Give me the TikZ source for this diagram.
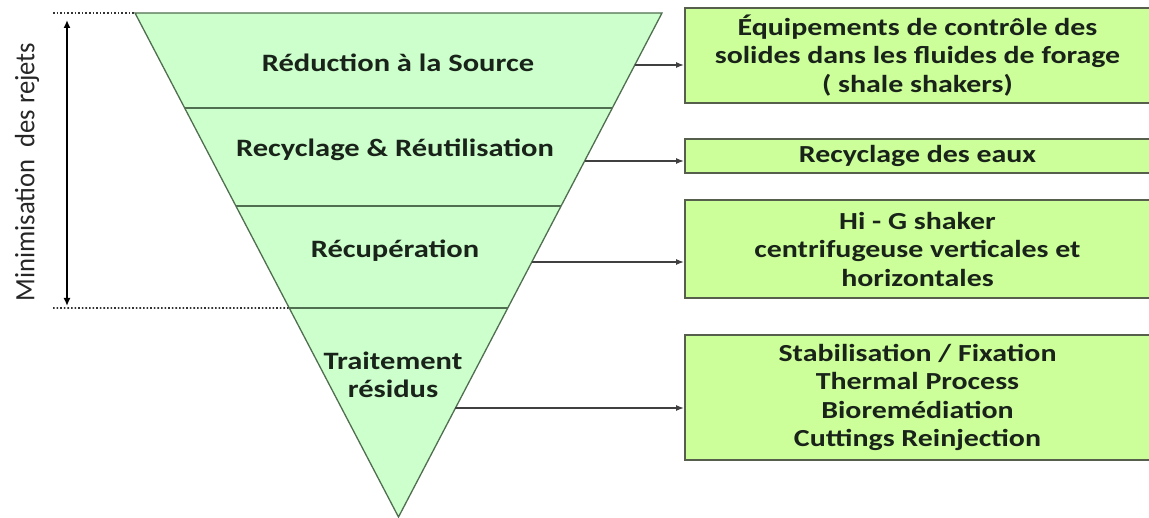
\documentclass[tikz,border=0pt]{standalone}
\usepackage{fontspec}
\setmainfont{Carlito}
\newfontfamily\widefont[FakeStretch=1.22]{Carlito}
\newfontfamily\sidefont[FakeStretch=0.95]{Carlito}
\usetikzlibrary{arrows.meta,calc}
\definecolor{trifill}{RGB}{204,255,204}
\definecolor{triline}{RGB}{80,110,80}
\definecolor{boxfill}{RGB}{204,255,153}
\definecolor{boxline}{RGB}{85,95,75}
\definecolor{txt}{RGB}{25,35,25}
\begin{document}
\begin{tikzpicture}[x=1pt,y=-1pt,
  band/.style={fill=trifill,draw=triline,line width=1.3pt,line join=miter},
  divider/.style={draw=triline,line width=1.3pt},
  lbl/.style={font=\widefont\fontsize{25}{28.5}\selectfont\bfseries,text=txt,align=center,inner sep=0pt},
  sbox/.style={draw=boxline,fill=boxfill,line width=1.8pt,minimum width=465pt,minimum height=#1,
    font=\widefont\fontsize{24.5}{28.5}\selectfont\bfseries,text=txt,align=center,inner sep=0pt},
  link/.style={draw=black!75,line width=1.5pt,-{Latex[length=8pt,width=6pt]}},
  guide/.style={draw=black!80,line width=1.6pt,dotted},
  span/.style={draw=black,line width=2.2pt,{Latex[length=8pt,width=7pt]}-{Latex[length=8pt,width=7pt]}},
]
\useasboundingbox (0,0) rectangle (1149,518);
% triangle
\coordinate (TL) at (135,13);
\coordinate (TR) at (662,13);
\coordinate (A) at (398.5,517);
\path[band] (TL) -- (TR) -- (A) -- cycle;
\foreach \n/\y in {1/108,2/206,3/308}{
  \coordinate (L\n) at ($(TL)!{(\y-13)/504}!(A)$);
  \coordinate (R\n) at ($(TR)!{(\y-13)/504}!(A)$);
  \draw[divider] (L\n) -- (R\n);
}
% labels
\node[lbl] (t1) at (398,63) {Réduction à la Source};
\node[lbl] (t2) at (395,150) {Recyclage \& Réutilisation};
\node[lbl] (t3) at (395,251) {Récupération};
\node[lbl] (t4) at (393,375) {Traitement\\résidus};
% guides
\coordinate (G1) at (53,13);
\coordinate (G2) at (53,308);
\draw[guide] (G1) -- (TL);
\draw[guide] (G2) -- (L3);
\coordinate (V1) at (67,20);
\coordinate (V2) at (67,306);
\draw[span] (V1) -- (V2);
\node[rotate=90,font=\sidefont\fontsize{28}{30}\selectfont,text=black!85,inner sep=0pt] (side) at (27,172) {Minimisation\ \ des rejets};
% boxes
\node[sbox=95pt] (b1) at (917.5,55.5) {Équipements de contrôle des\\solides dans les fluides de forage\\( shale shakers)};
\node[sbox=34pt] (b2) at (917.5,156) {Recyclage des eaux};
\node[sbox=98pt] (b3) at (917.5,249) {Hi - G shaker\\centrifugeuse verticales et\\horizontales};
\node[sbox=125pt] (b4) at (917.5,397.5) {Stabilisation / Fixation\\Thermal Process\\Bioremédiation\\Cuttings Reinjection};
% arrows
\foreach \n/\y in {1/65,2/161,3/262,4/408}{
  \coordinate (s\n) at ($(TR)!{(\y-13)/504}!(A)$);
  \draw[link] (s\n) -- (s\n -| b\n.west);
}
\end{tikzpicture}
\end{document}
